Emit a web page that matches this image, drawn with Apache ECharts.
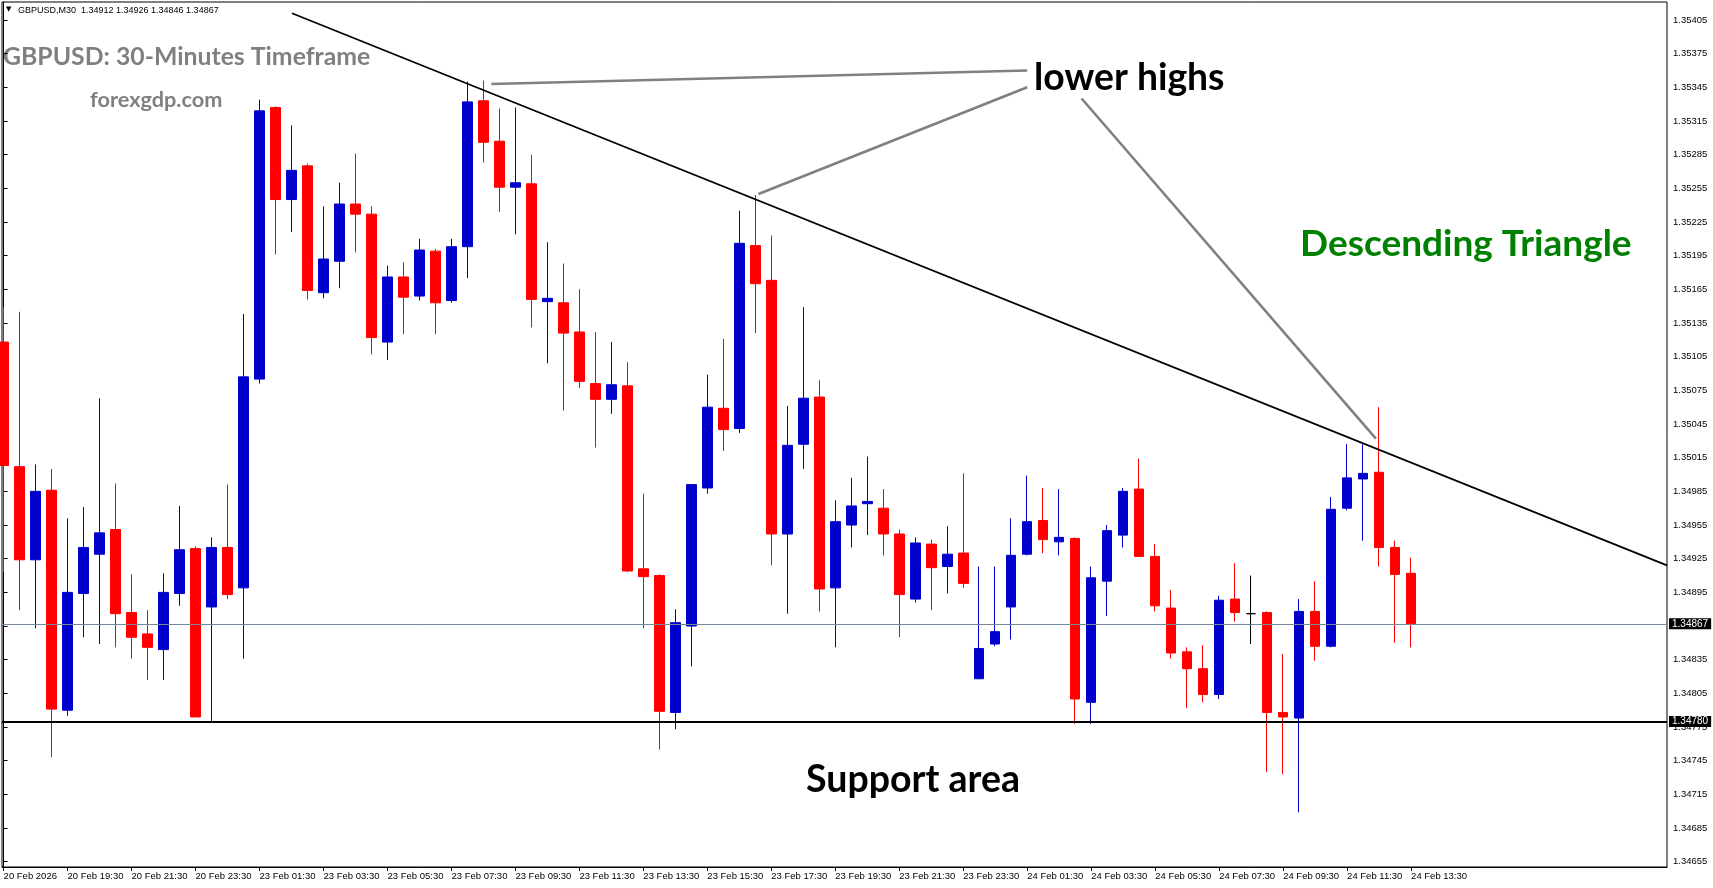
<!DOCTYPE html>
<html>
<head>
<meta charset="utf-8">
<script src="https://cdn.jsdelivr.net/npm/echarts@6/dist/echarts.min.js"></script>
<style>
html,body{margin:0;padding:0;background:#fff;}
#chart{width:1713px;height:888px;}
</style>
</head>
<body>
<div id="chart"></div>
<script>
// ---- Data (GBPUSD M30), bar index 0 = 20 Feb 17:30 ----
const opens = [1.35118,1.35007,1.34924,1.34986,1.34790,1.34894,1.34929,1.34951,1.34877,1.34858,
1.34844,1.34894,1.34934,1.34882,1.34935,1.34899,1.35085,1.35327,1.35245,1.35275,
1.35162,1.35190,1.35241,1.35232,1.35118,1.35176,1.35159,1.35199,1.35155,1.35203,
1.35333,1.35297,1.35256,1.35259,1.35154,1.35153,1.35127,1.35081,1.35067,1.35079,
1.34916,1.34910,1.34788,1.34865,1.34988,1.35059,1.35041,1.35204,1.35173,1.34947,
1.35027,1.35069,1.34899,1.34955,1.34974,1.34970,1.34947,1.34889,1.34938,1.34918,
1.34930,1.34818,1.34849,1.34882,1.34929,1.34959,1.34940,1.34943,1.34797,1.34905,
1.34946,1.34987,1.34927,1.34881,1.34842,1.34827,1.34804,1.34889,1.34876,1.34877,
1.34788,1.34783,1.34878,1.34847,1.34970,1.34996,1.35002,1.34935,1.34912];
const closes = [1.35008,1.34924,1.34985,1.34791,1.34895,1.34935,1.34948,1.34876,1.34855,1.34846,
1.34895,1.34933,1.34784,1.34935,1.34893,1.35087,1.35324,1.35245,1.35271,1.35164,
1.35192,1.35241,1.35232,1.35122,1.35176,1.35158,1.35200,1.35153,1.35203,1.35332,
1.35296,1.35256,1.35260,1.35156,1.35157,1.35126,1.35083,1.35067,1.35080,1.34914,
1.34909,1.34789,1.34868,1.34991,1.35060,1.35040,1.35206,1.35170,1.34947,1.35026,
1.35068,1.34898,1.34958,1.34972,1.34976,1.34947,1.34893,1.34939,1.34917,1.34929,
1.34903,1.34845,1.34860,1.34928,1.34958,1.34942,1.34944,1.34800,1.34908,1.34950,
1.34985,1.34927,1.34883,1.34841,1.34827,1.34804,1.34888,1.34877,1.34876,1.34788,
1.34784,1.34878,1.34847,1.34969,1.34997,1.35001,1.34935,1.34911,1.34867];
const lows = [1.34913,1.34879,1.34863,1.34748,1.34785,1.34855,1.34849,1.34846,1.34836,1.34817,
1.34817,1.34883,1.34784,1.34780,1.34889,1.34836,1.35081,1.35196,1.35216,1.35156,
1.35157,1.35166,1.35198,1.35107,1.35102,1.35125,1.35155,1.35125,1.35153,1.35175,
1.35278,1.35234,1.35214,1.35131,1.35099,1.35057,1.35077,1.35024,1.35054,1.34913,
1.34863,1.34755,1.34773,1.34829,1.34983,1.35021,1.35037,1.35126,1.34919,1.34876,
1.35005,1.34878,1.34846,1.34935,1.34946,1.34928,1.34855,1.34886,1.34879,1.34894,
1.34899,1.34818,1.34847,1.34853,1.34928,1.34930,1.34928,1.34778,1.34778,1.34874,
1.34935,1.34927,1.34878,1.34836,1.34792,1.34797,1.34800,1.34869,1.34849,1.34735,
1.34733,1.34699,1.34834,1.34846,1.34968,1.34941,1.34918,1.34850,1.34846];
const highs = [1.35149,1.35145,1.35009,1.35005,1.34961,1.34971,1.35068,1.34992,1.34911,1.34879,
1.34912,1.34972,1.34936,1.34944,1.34991,1.35143,1.35334,1.35328,1.35311,1.35277,
1.35239,1.35260,1.35286,1.35239,1.35186,1.35189,1.35210,1.35201,1.35210,1.35350,
1.35351,1.35326,1.35327,1.35285,1.35207,1.35188,1.35165,1.35127,1.35118,1.35100,
1.34983,1.34911,1.34880,1.34991,1.35089,1.35121,1.35235,1.35249,1.35213,1.35061,
1.35149,1.35084,1.34977,1.34997,1.35016,1.34987,1.34951,1.34944,1.34942,1.34954,
1.35001,1.34918,1.34918,1.34961,1.34999,1.34988,1.34987,1.34944,1.34918,1.34955,
1.34988,1.35014,1.34938,1.34897,1.34846,1.34848,1.34892,1.34921,1.34910,1.34878,
1.34840,1.34889,1.34905,1.34980,1.35027,1.35027,1.35060,1.34941,1.34926];

// x tick labels, one every 4 bars starting at bar 0
const xTickLabels = ['20 Feb 2026','20 Feb 19:30','20 Feb 21:30','20 Feb 23:30','23 Feb 01:30','23 Feb 03:30',
'23 Feb 05:30','23 Feb 07:30','23 Feb 09:30','23 Feb 11:30','23 Feb 13:30','23 Feb 15:30','23 Feb 17:30',
'23 Feb 19:30','23 Feb 21:30','23 Feb 23:30','24 Feb 01:30','24 Feb 03:30','24 Feb 05:30','24 Feb 07:30',
'24 Feb 09:30','24 Feb 11:30','24 Feb 13:30'];
const xTickStep = 4;
// y tick labels (price scale)
const yTickValues = [1.34655,1.34685,1.34715,1.34745,1.34775,1.34805,1.34835,1.34865,1.34895,1.34925,
1.34955,1.34985,1.35015,1.35045,1.35075,1.35105,1.35135,1.35165,1.35195,1.35225,1.35255,1.35285,
1.35315,1.35345,1.35375,1.35405];

const headerText = 'GBPUSD,M30  1.34912 1.34926 1.34846 1.34867';
const currentPrice = 1.34867;
const supportPrice = 1.34780;
// annotation lines: [barIndex, price] pairs
const trendLine = [[18.03, 1.35411], [104, 1.34919]];
const pointerLines = [
  [[30.5, 1.35348], [64.0, 1.35360]],
  [[47.2, 1.35250], [64.0, 1.35345]],
  [[67.4, 1.35335], [85.8, 1.35032]]
];

const xMin = -0.1, xMax = 104;
const candleData = opens.map((o, i) => [i, o, closes[i], lows[i], highs[i]]);
const xTickPos = xTickLabels.map((_, i) => i * xTickStep);

const axisFont = {fontSize: 9.5, fontFamily: 'Liberation Sans, Arial, sans-serif', color: '#000'};
const boxLabel = {show: true, position: 'end', distance: 2, backgroundColor: '#000', color: '#fff',
  padding: [1, 3, 0, 3], fontSize: 10, fontFamily: 'Liberation Sans, Arial, sans-serif'};

const chart = echarts.init(document.getElementById('chart'), null, {renderer: 'canvas'});
const option = {
  animation: false,
  backgroundColor: '#ffffff',
  grid: {left: 2, right: 46, top: 2, bottom: 21, show: true, borderColor: '#000', borderWidth: 1, backgroundColor: '#fff'},
  xAxis: {
    type: 'value', min: xMin, max: xMax,
    axisLine: {show: true, onZero: false, lineStyle: {color: '#000', width: 1}},
    axisTick: {show: true, length: 4, customValues: xTickPos, lineStyle: {color: '#000'}},
    axisLabel: Object.assign({
      customValues: xTickPos,
      formatter: v => xTickLabels[Math.round(v / xTickStep)] || '',
      align: 'left', margin: 4
    }, axisFont),
    splitLine: {show: false}
  },
  yAxis: {
    type: 'value', position: 'right', min: 1.346503, max: 1.354210,
    axisLine: {show: true, lineStyle: {color: '#000', width: 1}},
    axisTick: {show: true, length: 4, customValues: yTickValues, lineStyle: {color: '#000'}},
    axisLabel: Object.assign({
      customValues: yTickValues,
      formatter: v => v.toFixed(5),
      margin: 6
    }, axisFont),
    splitLine: {show: false}
  },
  series: [{
    type: 'candlestick',
    data: candleData,
    encode: {x: 0, y: [1, 2, 3, 4]},
    barWidth: 10,
    itemStyle: {
      color: '#0000CC', color0: '#FF0000',
      borderColor: '#0000CC', borderColor0: '#FF0000', borderColorDoji: '#000000',
      borderWidth: 1
    },
    markLine: {
      silent: true, symbol: ['none', 'none'], animation: false,
      label: {show: false},
      data: [
        [{coord: [xMin, currentPrice], lineStyle: {color: '#778899', width: 1, type: 'solid'},
          label: Object.assign({formatter: currentPrice.toFixed(5)}, boxLabel)},
         {coord: [xMax, currentPrice]}],
        [{coord: [xMin, supportPrice], lineStyle: {color: '#000', width: 2, type: 'solid'},
          label: Object.assign({formatter: supportPrice.toFixed(5)}, boxLabel)},
         {coord: [xMax, supportPrice]}],
        [{coord: trendLine[0], lineStyle: {color: '#000', width: 1.8, type: 'solid'}, label: {show: false}},
         {coord: trendLine[1]}]
      ].concat(pointerLines.map(p => [
        {coord: p[0], lineStyle: {color: '#808080', width: 2.6, type: 'solid'}, label: {show: false}},
        {coord: p[1]}
      ]))
    }
  }],
  graphic: [
    {type: 'text', left: 6, top: 6, style: {text: '\u25BC', fill: '#000', font: '7px DejaVu Sans'}},
    {type: 'text', x: 18, y: 10.5, style: {text: headerText, fill: '#000', font: '9px Liberation Sans', verticalAlign: 'middle'}},
    {type: 'text', x: 3, y: 57.5, style: {text: 'GBPUSD: 30-Minutes Timeframe', fill: '#808080', font: 'bold 24.8px Lato', verticalAlign: 'middle'}},
    {type: 'text', x: 90, y: 100.5, style: {text: 'forexgdp.com', fill: '#808080', font: 'bold 21.7px Lato', verticalAlign: 'middle'}},
    {type: 'text', x: 1034, y: 78, style: {text: 'lower highs', fill: '#000', font: 'bold 37.3px Lato', verticalAlign: 'middle'}},
    {type: 'text', x: 1300, y: 244, style: {text: 'Descending Triangle', fill: '#008000', font: 'bold 37px Lato', verticalAlign: 'middle'}},
    {type: 'text', x: 806, y: 780, style: {text: 'Support area', fill: '#000', font: 'bold 37.5px Lato', verticalAlign: 'middle'}}
  ]
};
chart.setOption(option);
</script>
</body>
</html>
